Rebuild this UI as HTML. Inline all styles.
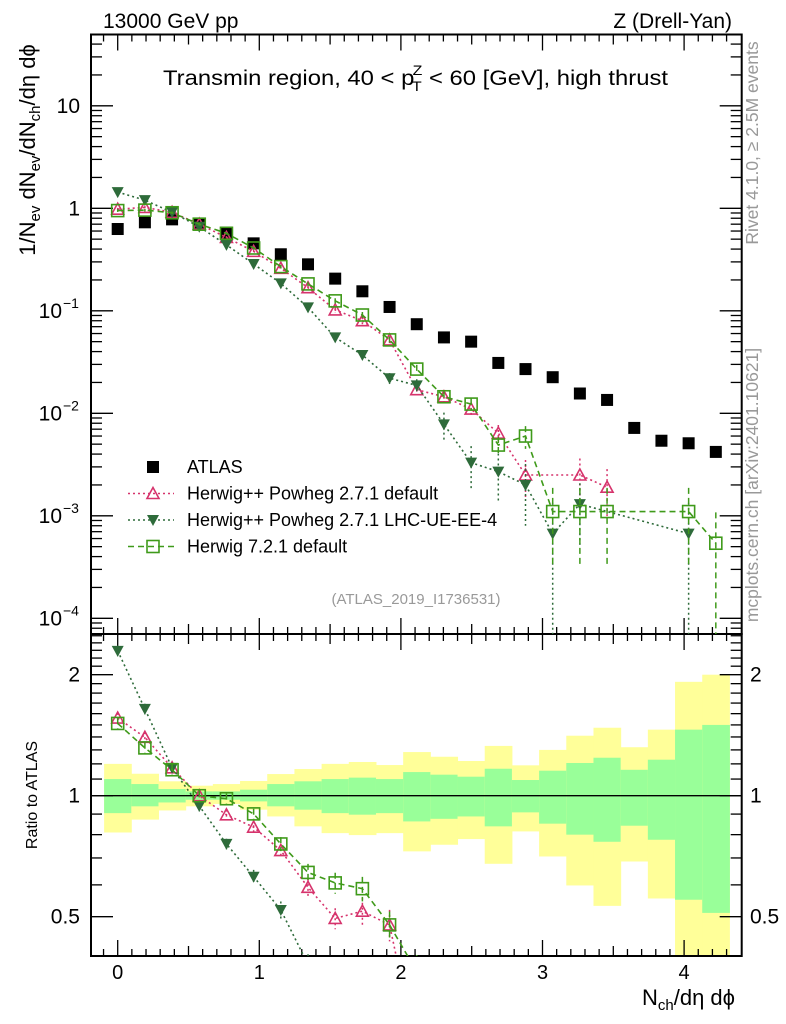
<!DOCTYPE html>
<html><head><meta charset="utf-8"><style>
html,body{margin:0;padding:0;background:#fff;width:786px;height:1024px;overflow:hidden;}
svg{display:block;font-family:"Liberation Sans",Arial,sans-serif;}
</style></head><body>
<svg id="chart" width="786" height="1024" viewBox="0 0 786 1024" xmlns="http://www.w3.org/2000/svg">
<defs>
<clipPath id="clipMain"><rect x="91" y="34.5" width="650.7" height="599.5"/></clipPath>
<clipPath id="clipRatio"><rect x="91" y="634" width="650.7" height="322"/></clipPath>
</defs>
<text x="103" y="28" font-size="21">13000 GeV pp</text>
<text x="732" y="28" font-size="21" text-anchor="end">Z (Drell-Yan)</text>
<text x="163" y="85" font-size="21" textLength="505" lengthAdjust="spacingAndGlyphs">Transmin region, 40 &lt; p<tspan font-size="14" dy="6" dx="-2">T</tspan><tspan font-size="14" dy="-16" dx="-8">Z</tspan><tspan dy="10"> &lt; 60 [GeV], high thrust</tspan></text>
<text transform="translate(35,150) rotate(-90)" font-size="22" text-anchor="middle">1/N<tspan font-size="15" dy="5">ev</tspan><tspan dy="-5"> dN</tspan><tspan font-size="15" dy="5">ev</tspan><tspan dy="-5">/dN</tspan><tspan font-size="15" dy="5">ch</tspan><tspan dy="-5">/dη dϕ</tspan></text>
<text transform="translate(37,795) rotate(-90)" font-size="16" text-anchor="middle">Ratio to ATLAS</text>
<text x="735" y="1005" font-size="22" text-anchor="end">N<tspan font-size="15" dy="5">ch</tspan><tspan dy="-5">/dη dϕ</tspan></text>
<text transform="translate(758,143) rotate(-90)" font-size="17.5" fill="#999" text-anchor="middle">Rivet 4.1.0, ≥ 2.5M events</text>
<text transform="translate(758,485) rotate(-90)" font-size="17.5" fill="#999" text-anchor="middle">mcplots.cern.ch [arXiv:2401.10621]</text>
<text x="416" y="604" font-size="15" fill="#999" text-anchor="middle">(ATLAS_2019_I1736531)</text>
<g id="bands" clip-path="url(#clipRatio)"></g>
<g id="axes"></g>
<g id="mainMarks" clip-path="url(#clipMain)"></g>
<g id="ratioMarks" clip-path="url(#clipRatio)"></g>
<g id="legend"></g>
</svg>
<script>
const xTickLabels = ["0","1","2","3","4"];
const yTickValues = [10,1,0.1,0.01,0.001,0.0001];
const yTickLabels = ["10","1","10","10","10","10"];
const yTickExps = ["","","−1","−2","−3","−4"];
const ratioTickValues = [2,1,0.5];
const ratioTickLabels = ["2","1","0.5"];
const binStep = 0.192;
const atlas = [0.628,0.73,0.78,0.70,0.58,0.455,0.356,0.284,0.206,0.155,0.109,0.074,0.055,0.050,0.031,0.027,0.0225,0.0156,0.0135,0.0072,0.0054,0.0051,0.0042];
const hppDefault = [0.98,1.02,0.915,0.70,0.52,0.38,0.26,0.168,0.102,0.08,0.052,0.017,0.0145,0.011,0.0064,0.0025,null,0.0025,0.0019,null,null,null,null];
const hppDefaultErr = [0.03,0.03,0.03,0.03,0.03,0.04,0.04,0.05,0.06,0.08,0.09,0.12,0.12,0.15,0.2,0.4,null,0.45,0.5,null,null,null,null];
const hppUE = [1.44,1.2,0.915,0.66,0.44,0.286,0.185,0.108,0.055,0.037,0.022,0.0187,0.0078,0.0033,0.0027,0.002,0.00067,0.0013,null,null,null,0.00067,null];
const hppUEErr = [0.03,0.03,0.03,0.03,0.03,0.04,0.05,0.06,0.08,0.1,0.12,0.15,0.3,0.45,0.5,0.6,1,0.6,null,null,null,1,null];
const h7Default = [0.95,0.96,0.905,0.70,0.57,0.41,0.27,0.183,0.125,0.091,0.052,0.027,0.0145,0.0123,0.0049,0.006,0.0011,0.0011,0.0011,null,null,0.0011,0.00054];
const h7DefaultErr = [0.03,0.03,0.03,0.03,0.03,0.03,0.04,0.05,0.06,0.07,0.08,0.1,0.12,0.14,0.2,0.25,0.7,0.7,0.7,null,null,0.7,1];
const bandGreenUp = [1.10,1.069,1.039,1.025,1.025,1.035,1.069,1.086,1.10,1.109,1.10,1.145,1.128,1.115,1.167,1.094,1.154,1.206,1.243,1.16,1.229,1.46,1.50];
const bandGreenDn = [0.905,0.941,0.962,0.977,0.977,0.968,0.941,0.923,0.905,0.897,0.905,0.863,0.876,0.888,0.839,0.909,0.852,0.80,0.768,0.842,0.777,0.551,0.511];
const bandYellowUp = [1.20,1.134,1.086,1.059,1.069,1.088,1.132,1.165,1.20,1.213,1.192,1.284,1.25,1.22,1.33,1.19,1.30,1.41,1.476,1.32,1.46,1.92,2.0];
const bandYellowDn = [0.81,0.872,0.919,0.941,0.954,0.923,0.888,0.839,0.807,0.798,0.807,0.727,0.755,0.78,0.677,0.815,0.706,0.598,0.532,0.686,0.555,0.3,0.3];

const NS="http://www.w3.org/2000/svg";
const L=91,R=741.7,T=34.5,MB=634,RB=956;
const X=v=>117.7+141.6*v;
const Y=v=>208.3-102.5*Math.log10(v);
const RY=v=>795.7-121*Math.log2(v);
function mk(tag,attrs,parent){const e=document.createElementNS(NS,tag);for(const k in attrs)e.setAttribute(k,attrs[k]);parent.appendChild(e);return e;}
const axes=document.getElementById('axes');
const bands=document.getElementById('bands');
const mainG=document.getElementById('mainMarks');
const ratioG=document.getElementById('ratioMarks');
const legend=document.getElementById('legend');
const xc=i=>i*binStep;

for(let i=0;i<atlas.length;i++){
  const x0=X(xc(i)-binStep/2),x1=X(xc(i)+binStep/2);
  let r=mk('rect',{x:x0,y:RY(bandYellowUp[i]),width:x1-x0+0.5,height:RY(bandYellowDn[i])-RY(bandYellowUp[i]),fill:'#ffff99'},bands);
  
  
  let g=mk('rect',{x:x0,y:RY(bandGreenUp[i]),width:x1-x0+0.5,height:RY(bandGreenDn[i])-RY(bandGreenUp[i]),fill:'#99ff99'},bands);
  
  
}
let one=mk('line',{x1:L,x2:R,y1:RY(1),y2:RY(1),stroke:'#000','stroke-width':1.3},axes);



let f1=mk('rect',{x:L,y:T,width:R-L,height:MB-T,fill:'none',stroke:'#000','stroke-width':2},axes);


let f2=mk('rect',{x:L,y:MB,width:R-L,height:RB-MB,fill:'none',stroke:'#000','stroke-width':2},axes);



for(let k=-1;k<=46;k++){
  const v=k/10, x=X(v); if(x<L+1||x>R-1) continue;
  const len = k%10===0?16:(k%5===0?10:7);
  [[T,1],[MB,-1],[MB,1],[RB,-1]].forEach(([y0,d])=>{mk('line',{x1:x,x2:x,y1:y0,y2:y0+d*len,stroke:'#000','stroke-width':1.3},axes);});
}
xTickLabels.forEach((s,i)=>{let t=mk('text',{x:X(i),y:979,'font-size':20,'text-anchor':'middle'},axes);t.textContent=s;

});
for(let d=-5;d<=2;d++){for(let m=1;m<=9;m++){const v=m*Math.pow(10,d),y=Y(v);if(y<T+1||y>MB-1)continue;const len=m===1?22:11;
 mk('line',{x1:L,x2:L+len,y1:y,y2:y,stroke:'#000','stroke-width':1.3},axes);mk('line',{x1:R,x2:R-len,y1:y,y2:y,stroke:'#000','stroke-width':1.3},axes);}}
yTickValues.forEach((v,i)=>{let t=mk('text',{x:yTickExps[i]?62:80,y:Y(v)+7,'font-size':21,'text-anchor':'end'},axes);t.textContent=yTickLabels[i];


if(yTickExps[i]){let e=mk('text',{x:63,y:Y(v)-3,'font-size':14},axes);e.textContent=yTickExps[i];

}});
for(let k=3;k<=26;k++){const v=k/10,y=RY(v);if(y<MB+1||y>RB-1)continue;const len=(k===5||k===10||k===20)?22:11;
 mk('line',{x1:L,x2:L+len,y1:y,y2:y,stroke:'#000','stroke-width':1.3},axes);mk('line',{x1:R,x2:R-len,y1:y,y2:y,stroke:'#000','stroke-width':1.3},axes);}
ratioTickValues.forEach((v,i)=>{[[80,'end'],[750,'start']].forEach(([x,a])=>{let t=mk('text',{x:x,y:RY(v)+7,'font-size':21,'text-anchor':a},axes);t.textContent=ratioTickLabels[i];

});});

function marker(g,type,x,y,color){
  if(type==='sq'){return mk('rect',{x:x-6,y:y-6,width:12,height:12,fill:'#000'},g);}
  if(type==='tu'){return mk('polygon',{points:`${x},${y-6} ${x-6},${y+5} ${x+6},${y+5}`,fill:'none',stroke:color,'stroke-width':1.6},g);}
  if(type==='td'){return mk('polygon',{points:`${x-6},${y-5} ${x+6},${y-5} ${x},${y+6}`,fill:color},g);}
  if(type==='os'){return mk('rect',{x:x-6,y:y-6,width:12,height:12,fill:'none',stroke:color,'stroke-width':1.6},g);}
}
function series(vals,errs,type,color,dash,name,g,ratio){
  const f=ratio?RY:Y;
  const pts=[];let d='';
  vals.forEach((v,i)=>{if(v===null)return;const val=ratio?v/atlas[i]:v;pts.push([X(xc(i)),f(val),val,errs?errs[i]:0]);d+=(d===''?'M':'L')+X(xc(i))+','+f(val)+' ';});
  if(dash){let p=mk('path',{d:d,fill:'none',stroke:color,'stroke-width':1.6,'stroke-dasharray':dash},g);
  
  }
  pts.forEach(([x,y,val,e])=>{
    if(e){const lo=Math.max(val*(1-e),1e-6),hi=val*(1+e);
      let b=mk('line',{x1:x,x2:x,y1:f(hi),y2:f(lo),stroke:color,'stroke-width':1.5,'stroke-dasharray':dash||''},g);
      
      }
    let m=marker(g,type,x,y,color);
    
    
  });
}
series(atlas,null,'sq','#000',null,'atlas',mainG,false);
series(hppDefault,hppDefaultErr,'tu','#d6336c','2,3','herwigpp-default',mainG,false);
series(hppUE,hppUEErr,'td','#2e6b3a','2,3','herwigpp-lhc-ue',mainG,false);
series(h7Default,h7DefaultErr,'os','#3f9a1a','6,4','herwig7-default',mainG,false);
series(hppDefault,hppDefaultErr,'tu','#d6336c','2,3','ratio-herwigpp-default',ratioG,true);
series(hppUE,hppUEErr,'td','#2e6b3a','2,3','ratio-herwigpp-lhc-ue',ratioG,true);
series(h7Default,h7DefaultErr,'os','#3f9a1a','6,4','ratio-herwig7-default',ratioG,true);

const legItems=[['ATLAS','sq','#000',null],['Herwig++ Powheg 2.7.1 default','tu','#d6336c','2,3'],['Herwig++ Powheg 2.7.1 LHC-UE-EE-4','td','#2e6b3a','2,3'],['Herwig 7.2.1 default','os','#3f9a1a','6,4']];
legItems.forEach(([label,type,color,dash],i)=>{
  const y=467+i*26.5;
  const g=mk('g',{},legend);
  
  
  if(dash) mk('line',{x1:128,x2:174,y1:y,y2:y,stroke:color,'stroke-width':1.6,'stroke-dasharray':dash},g);
  marker(g,type,153,y,color);
  const t=mk('text',{x:187,y:y+6,'font-size':18},g);t.textContent=label;
});
</script>
</body></html>
